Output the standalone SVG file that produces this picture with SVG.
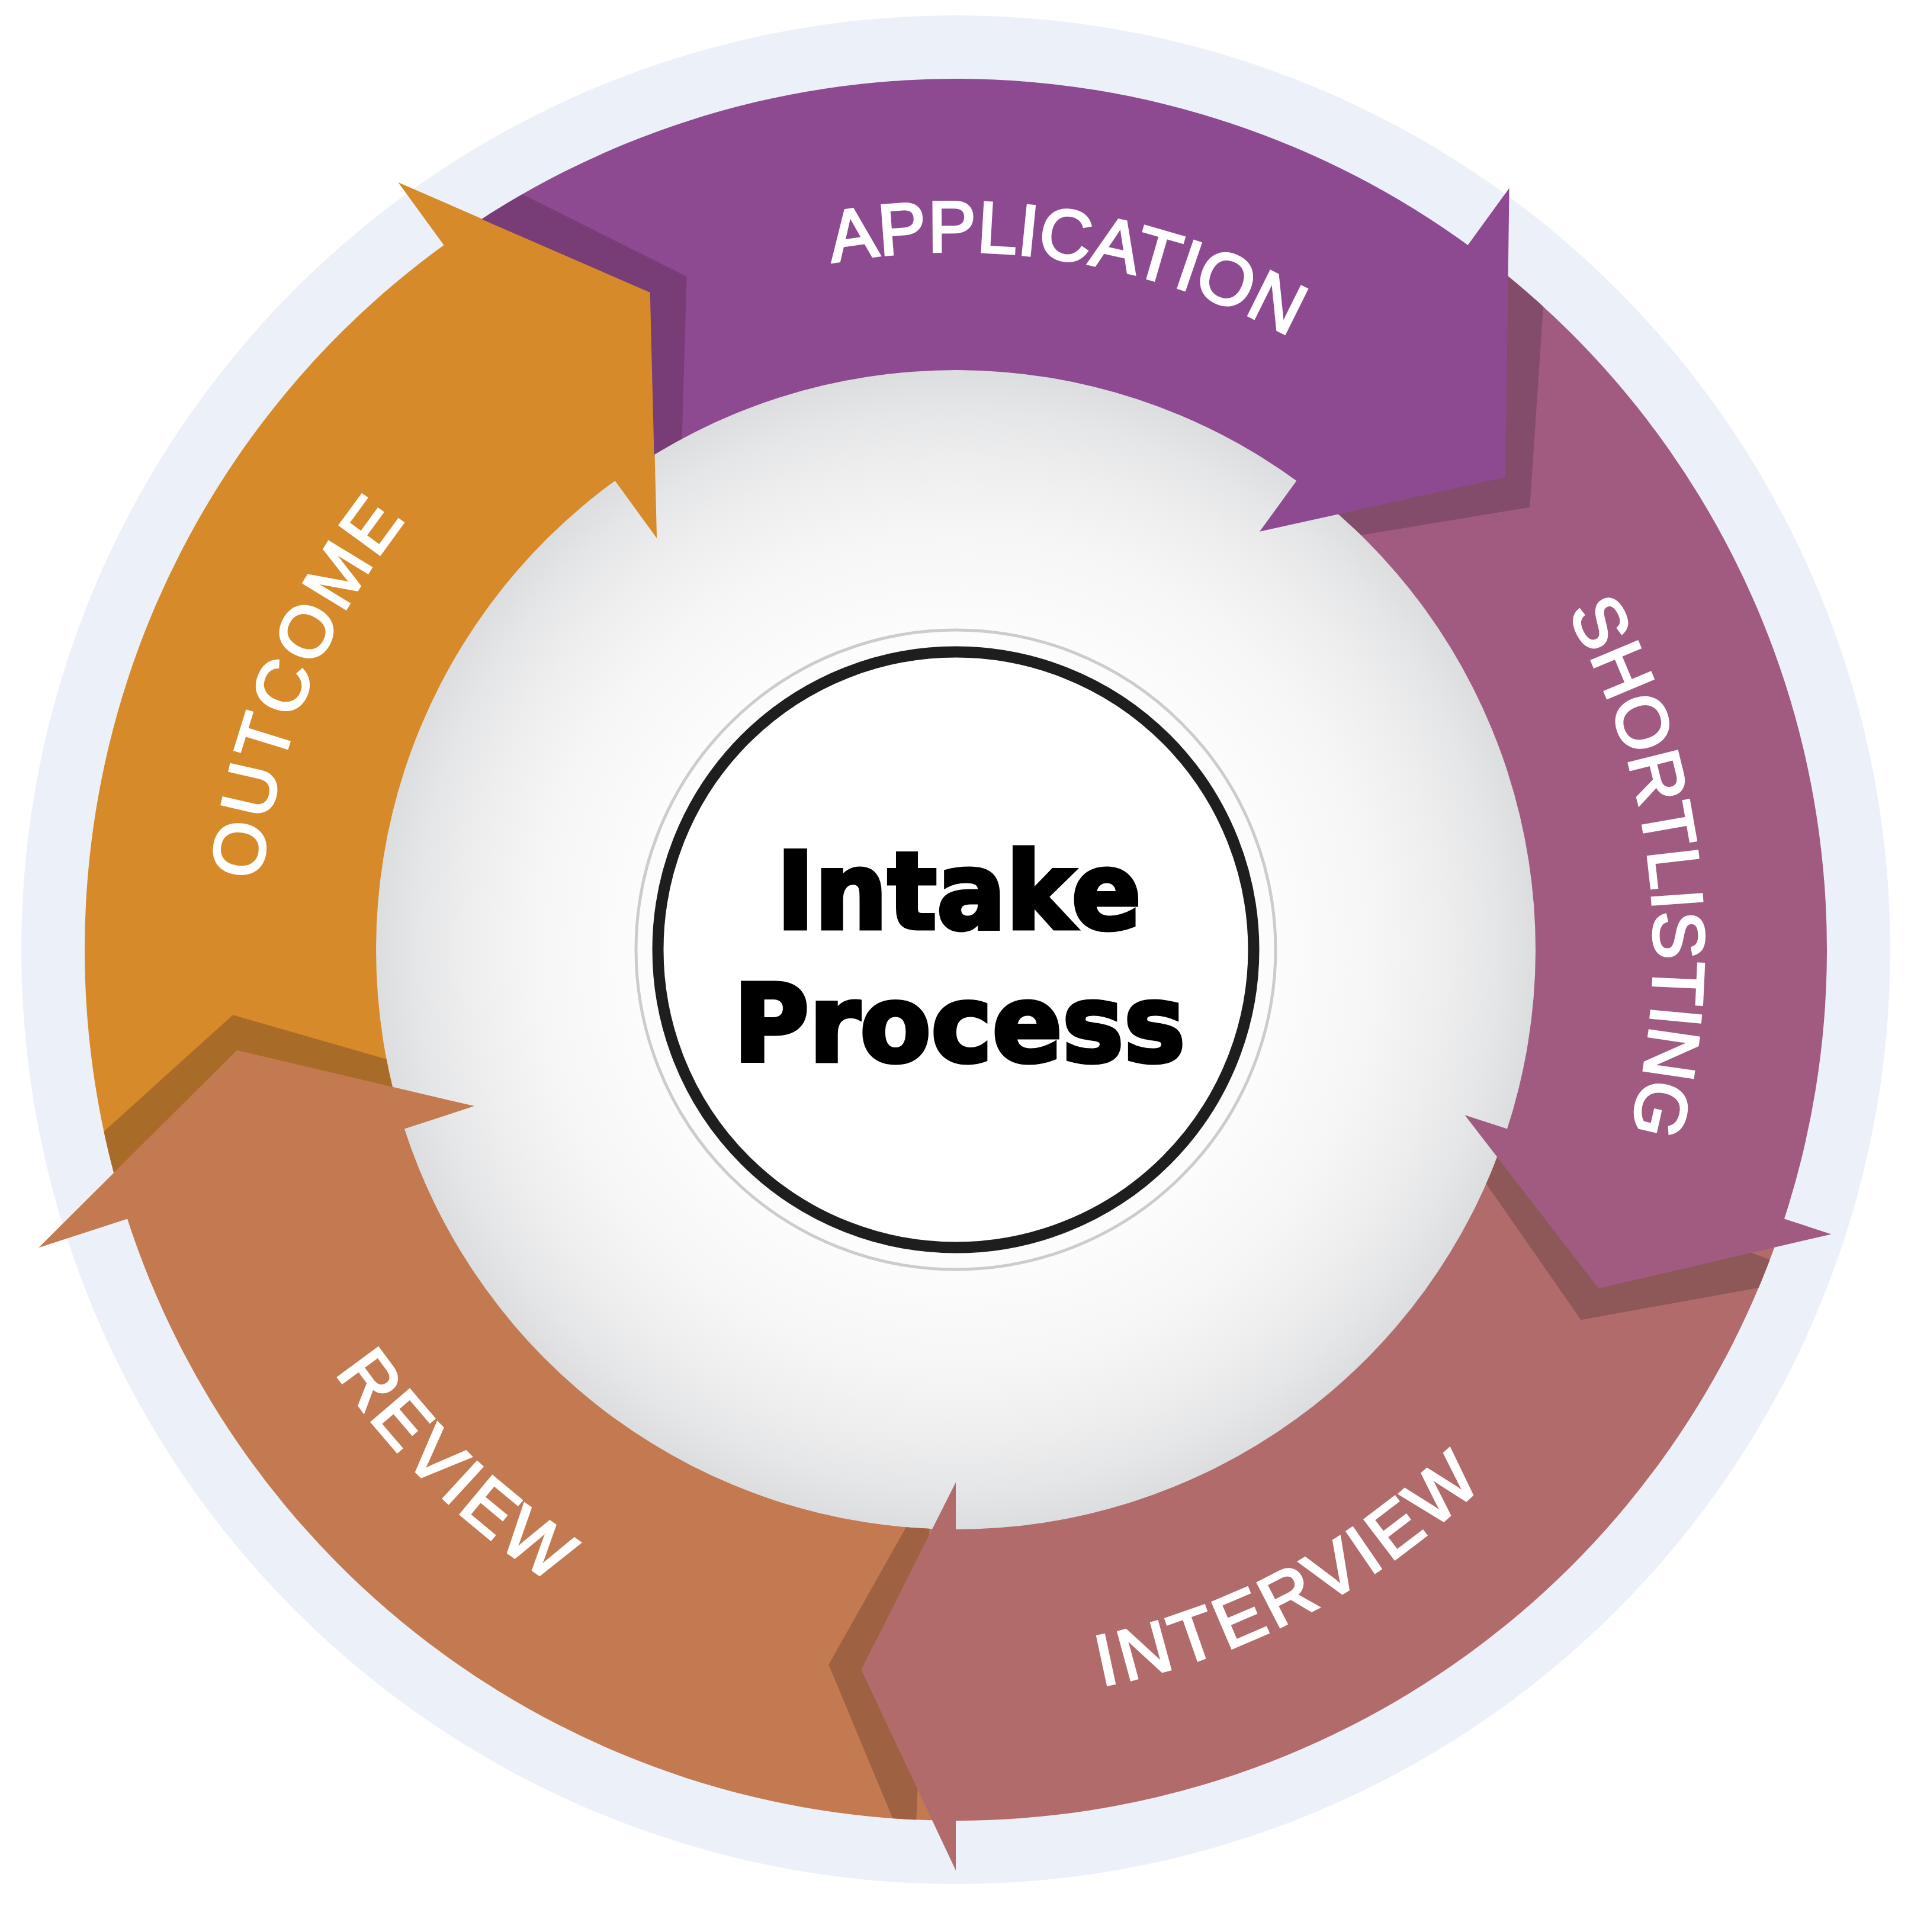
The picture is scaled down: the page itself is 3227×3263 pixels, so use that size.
<svg xmlns="http://www.w3.org/2000/svg" width="3227" height="3263" viewBox="0 0 3227 3263">
<style>
.lbl{font-family:"Liberation Sans",Arial,sans-serif;font-size:122px;fill:#fff;stroke:#fff;stroke-width:4px;stroke-linejoin:miter;text-anchor:middle}
.title{font-family:"DejaVu Sans","Liberation Sans",sans-serif;font-weight:bold;font-size:180px;fill:#000;stroke:#000;stroke-width:7px;stroke-linejoin:miter;text-anchor:middle}
.app{fill:#8E4A91}.sho{fill:#A15B80}.int{fill:#B26B6B}.rev{fill:#C47A51}.out{fill:#D68A29}
</style>
<defs>
<radialGradient id="wg" cx="50%" cy="50%" r="50%">
<stop offset="0" stop-color="#ffffff"/>
<stop offset="0.55" stop-color="#fcfcfc"/>
<stop offset="0.72" stop-color="#f6f6f6"/>
<stop offset="0.84" stop-color="#eeeeef"/>
<stop offset="0.93" stop-color="#e5e6e7"/>
<stop offset="1" stop-color="#dcdddf"/>
</radialGradient>
<clipPath id="ring"><path clip-rule="evenodd" d="M 3085 1604 A 1471 1471 0 1 0 143 1604 A 1471 1471 0 1 0 3085 1604 Z M 2593 1604 A 979 979 0 1 0 635 1604 A 979 979 0 1 0 2593 1604 Z"/></clipPath>
<mask id="m-app" maskUnits="userSpaceOnUse" x="0" y="0" width="3227" height="3263">
<rect x="0" y="0" width="3227" height="3263" fill="#fff"/>
<polygon points="672.4,308 1098.7,493.3 1109.1,909.1" fill="#000" stroke="#fff" stroke-width="2"/>
</mask>
<path id="tp-top" d="M 592.95 1014.5 A 1179 1179 0 0 1 2635.05 1014.5"/>
<path id="tp-bot" d="M 515.88 2238 A 1268 1268 0 0 0 2712.12 2238"/>
</defs>

<circle cx="1614" cy="1604" r="1578" fill="#ECF0F9"/>
<circle cx="1614" cy="1604" r="981" fill="url(#wg)"/>

<g id="outcome">
<path class="out" d="M 215 2058.56 A 1471 1471 0 0 1 755.61 409.42 L 1042.71 808.97 A 979 979 0 0 0 682.92 1906.53 Z"/>
<polygon class="out" points="672.4,308 1098.7,493.3 1109.1,909.1"/>
<text class="lbl" transform="rotate(-68.02 1614 1604)"><textPath href="#tp-top" startOffset="50%" letter-spacing="6.7">OUTCOME</textPath></text>
</g>

<g id="review">
<path class="rev" d="M 1614 3075 A 1471 1471 0 0 1 212.63 2051.23 L 681.34 1901.65 A 979 979 0 0 0 1614 2583 Z"/>
<g clip-path="url(#ring)"><polygon fill="#A96C28" transform="rotate(2.8 1614 1604)" points="65.2,2107.2 400,1773.8 801.1,1868.1"/></g>
<polygon class="rev" points="65.2,2107.2 400,1773.8 801.1,1868.1"/>
<text class="lbl" transform="rotate(43.98 1614 1604)"><textPath href="#tp-bot" startOffset="50%" letter-spacing="6.6">REVIEW</textPath></text>
</g>

<g id="interview">
<path class="int" d="M 3013 2058.56 A 1471 1471 0 0 1 1606.3 3074.98 L 1608.87 2582.99 A 979 979 0 0 0 2545.08 1906.53 Z"/>
<g clip-path="url(#ring)"><polygon fill="#9E6142" transform="rotate(2.6 1614 1604)" points="1614,3159 1454.3,2820 1614,2503.5"/></g>
<polygon class="int" points="1614,3159 1454.3,2820 1614,2503.5"/>
<text class="lbl" transform="rotate(-28.05 1614 1604)"><textPath href="#tp-bot" startOffset="50%" letter-spacing="7.9">INTERVIEW</textPath></text>
</g>

<g id="shortlisting">
<path class="sho" d="M 2478.63 413.94 A 1471 1471 0 0 1 3010.61 2065.88 L 2543.49 1911.4 A 979 979 0 0 0 2189.44 811.97 Z"/>
<g clip-path="url(#ring)"><polygon fill="#8E5858" transform="rotate(2.85 1614 1604)" points="3092.4,2084.4 2699.4,2176 2473.5,1883.3"/></g>
<polygon class="sho" points="3092.4,2084.4 2699.4,2176 2473.5,1883.3"/>
<text class="lbl" transform="rotate(83.1 1614 1604)"><textPath href="#tp-top" startOffset="50%" letter-spacing="0.5">SHORTLISTING</textPath></text>
</g>

<g id="application">
<g mask="url(#m-app)">
<path class="app" d="M 755.61 409.42 A 1471 1471 0 0 1 2484.85 418.48 L 2193.58 815 A 979 979 0 0 0 1042.71 808.97 Z"/>
<g clip-path="url(#ring)"><polygon fill="#783C76" transform="rotate(3.1 1614 1604)" points="672.4,308 1098.7,493.3 1109.1,909.1"/></g>
</g>
<g clip-path="url(#ring)"><polygon fill="#844C6B" transform="rotate(3.06 1614 1604)" points="2548.6,317.7 2542,806 2127.1,897.7"/></g>
<polygon class="app" points="2548.6,317.7 2542,806 2127.1,897.7"/>
<text class="lbl" transform="rotate(9.19 1614 1604)"><textPath href="#tp-top" startOffset="50%">APPLICATION</textPath></text>
</g>

<g id="connectors"/>

<g id="center">
<circle cx="1614" cy="1604" r="540" fill="none" stroke="#cccccc" stroke-width="5"/>
<circle cx="1614" cy="1604" r="503" fill="#ffffff" stroke="#1e1e1e" stroke-width="19"/>
<text class="title" x="1619" y="1568" textLength="616" lengthAdjust="spacingAndGlyphs">Intake</text>
<text class="title" x="1620" y="1792" textLength="763" lengthAdjust="spacingAndGlyphs">Process</text>
</g>
</svg>
